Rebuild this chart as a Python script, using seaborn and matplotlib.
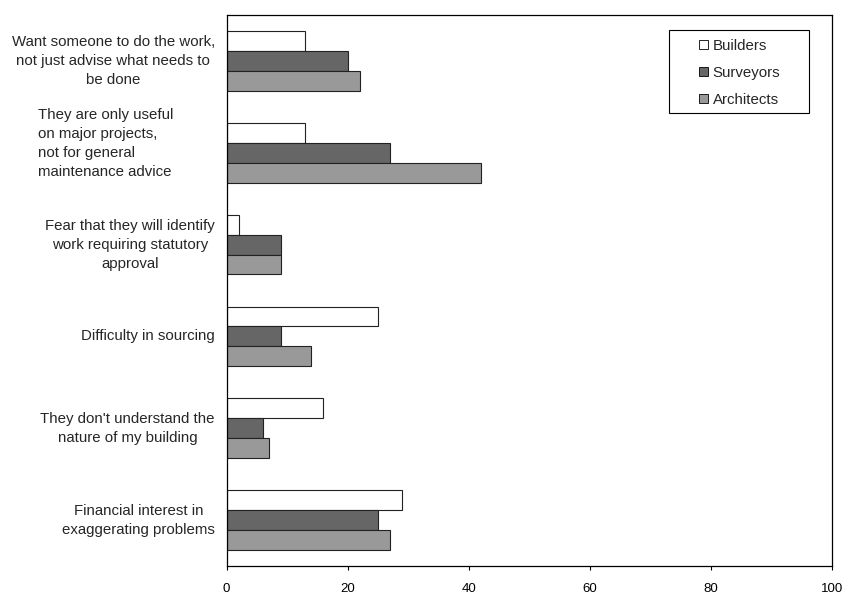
import matplotlib
matplotlib.use("Agg")
import matplotlib.pyplot as plt
import seaborn as sns
import pandas as pd
from matplotlib.patches import Patch, Rectangle

reasons = [
    "Want someone to do the work,\nnot just advise what needs to\nbe done",
    "They are only useful\non major projects,\nnot for general\nmaintenance advice",
    "Fear that they will identify\nwork requiring statutory\napproval",
    "Difficulty in sourcing",
    "They don't understand the\nnature of my building",
    "Financial interest in\nexaggerating problems",
]
series = ["Builders", "Surveyors", "Architects"]
builders = [13, 13, 2, 25, 16, 29]
surveyors = [20, 27, 9, 9, 6, 25]
architects = [22, 42, 9, 14, 7, 27]
x_ticks = [0, 20, 40, 60, 80, 100]

colors = {"Builders": "#FFFFFF", "Surveyors": "#666666", "Architects": "#999999"}

rows = []
for name, vals in zip(series, [builders, surveyors, architects]):
    for r, v in zip(reasons, vals):
        rows.append({"reason": r, "source": name, "value": v})
df = pd.DataFrame(rows)

sns.set_theme(style="white")
plt.rcParams["font.family"] = ["Liberation Sans", "DejaVu Sans"]

W, H = 845, 594
fig = plt.figure(figsize=(W / 100, H / 100), dpi=100)
L, R, T, B = 226.5, 832, 15, 566
ax = fig.add_axes([L / W, 1 - B / H, (R - L) / W, (B - T) / H])

sns.barplot(
    data=df, y="reason", x="value", hue="source", orient="h",
    order=reasons, hue_order=series, palette=colors, width=0.65,
    edgecolor="#222222", linewidth=0.8, ax=ax, legend=False,
)

ax.set_xlim(0, 100)
ax.set_xticks(x_ticks)
ax.set_xticklabels([str(t) for t in x_ticks], fontsize=9.5)
ax.set_xlabel("")
ax.set_ylabel("")
ax.set_yticks(range(len(reasons)))
ax.set_yticklabels([])
ax.tick_params(axis="x", direction="out", length=3, width=0.8, color="black",
               bottom=True, pad=9, colors="black")
ax.tick_params(axis="y", length=0)
for s in ax.spines.values():
    s.set_visible(True)
    s.set_color("black")
    s.set_linewidth(0.9)

# category labels drawn beside the axis
for i, r in enumerate(reasons):
    if i == 1:
        ax.text(-31.05, i - 0.105, r, transform=ax.transData, ha="left", va="center",
                multialignment="left", fontsize=10.8, linespacing=1.45, clip_on=False)
    else:
        ax.text(-1.9, i, r, transform=ax.transData, ha="right", va="center",
                multialignment="center", fontsize=10.8, linespacing=1.45, clip_on=False)

# legend entries with a separate, wider square frame
handles = [Patch(facecolor=colors[s], edgecolor="black", linewidth=0.6, label=s) for s in series]
leg = fig.legend(
    handles=handles, loc="upper left",
    bbox_to_anchor=(699 / W, 1 - 39 / H), bbox_transform=fig.transFigure,
    fontsize=10.8, frameon=False,
    handlelength=0.6, handleheight=0.6, handletextpad=0.3, labelspacing=0.86,
    borderpad=0, borderaxespad=0,
)
fig.add_artist(Rectangle((669 / W, 1 - 113 / H), (809 - 669) / W, (113 - 30) / H,
                         transform=fig.transFigure, facecolor="white",
                         edgecolor="black", linewidth=0.8, zorder=leg.get_zorder() - 0.1))

fig.savefig("out.png", dpi=100, facecolor="white")
